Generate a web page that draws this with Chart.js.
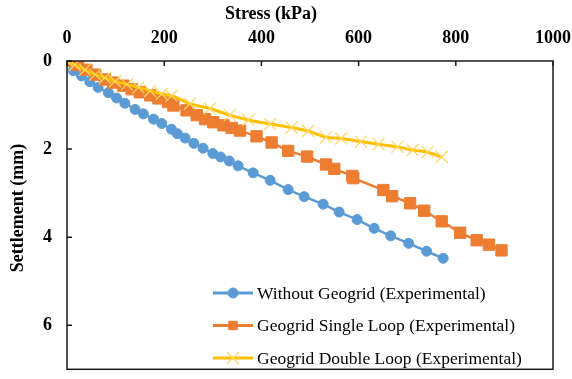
<!DOCTYPE html>
<html>
<head>
<meta charset="utf-8">
<script src="https://cdn.jsdelivr.net/npm/chart.js@4"></script>
<style>
html,body{margin:0;padding:0;background:#fff;}
#wrap{width:572px;height:379px;}
</style>
</head>
<body>
<div id="wrap"><canvas id="c" width="572" height="379"></canvas></div>
<script>
// ---- data ----
const X_TITLE = "Stress (kPa)";
const Y_TITLE = "Settlement (mm)";
const X_TICKS = [0, 200, 400, 600, 800, 1000];
const Y_TICKS = [0, 2, 4, 6];

const NO_GEO_LABEL = "Without Geogrid (Experimental)";
const NO_GEO_X = [0, 13, 30, 47, 64, 85, 102, 119, 140, 157, 178, 195, 215, 227, 243, 261, 280, 300, 316, 334, 352, 383, 418, 455, 488, 527, 560, 597, 632, 666, 703, 740, 774];
const NO_GEO_Y = [0, 0.22, 0.34, 0.47, 0.60, 0.72, 0.84, 0.96, 1.10, 1.20, 1.32, 1.42, 1.55, 1.65, 1.75, 1.87, 1.98, 2.10, 2.18, 2.27, 2.38, 2.54, 2.71, 2.92, 3.08, 3.25, 3.43, 3.60, 3.80, 3.97, 4.14, 4.32, 4.48];

const SINGLE_LABEL = "Geogrid Single Loop (Experimental)";
const SINGLE_X = [0, 23, 40, 58, 78, 95, 116, 133, 150, 171, 188, 208, 219, 246, 267, 284, 301, 322, 339, 356, 390, 421, 455, 494, 533, 550, 587, 589, 651, 669, 706, 735, 771, 809, 843, 868, 894];
const SINGLE_Y = [0, 0.09, 0.20, 0.31, 0.42, 0.49, 0.56, 0.64, 0.71, 0.78, 0.85, 0.93, 1.01, 1.12, 1.23, 1.32, 1.39, 1.46, 1.52, 1.58, 1.71, 1.85, 2.04, 2.17, 2.35, 2.45, 2.61, 2.66, 2.93, 3.07, 3.23, 3.40, 3.64, 3.90, 4.07, 4.17, 4.30];

const DOUBLE_LABEL = "Geogrid Double Loop (Experimental)";
const DOUBLE_X = [0, 16, 37, 58, 78, 99, 123, 147, 171, 195, 215, 253, 294, 335, 373, 418, 462, 496, 533, 564, 605, 641, 680, 711, 742, 771];
const DOUBLE_Y = [0, 0.09, 0.20, 0.31, 0.38, 0.46, 0.53, 0.60, 0.68, 0.75, 0.79, 0.97, 1.08, 1.23, 1.34, 1.43, 1.51, 1.59, 1.73, 1.76, 1.83, 1.89, 1.95, 2.02, 2.07, 2.18];

function pts(xs, ys){ return xs.map((x,i)=>({x:x, y:ys[i]})); }

const BLUE = '#5B9BD5', ORANGE = '#ED7D31', GOLD = '#FFC000', GOLD_LIGHT = '#FFD761';
const BOLD = {family:"'Liberation Serif','Times New Roman',serif", size:18, weight:'bold'};
const REG = "17.5px 'Liberation Serif','Times New Roman',serif";

const frame = {
  id:'frame',
  afterDraw(chart){
    const ctx = chart.ctx, a = chart.chartArea;
    const xs = chart.scales.x, ys = chart.scales.y;
    ctx.save();
    ctx.strokeStyle = '#1a1a1a';
    ctx.lineWidth = 1.5;
    ctx.strokeRect(a.left, a.top, a.right - a.left, a.bottom - a.top);
    ctx.beginPath();
    X_TICKS.forEach(v=>{ const p = xs.getPixelForValue(v); ctx.moveTo(p, a.top); ctx.lineTo(p, a.top + 5); });
    Y_TICKS.forEach(v=>{ const p = ys.getPixelForValue(v); ctx.moveTo(a.left, p); ctx.lineTo(a.left + 5, p); });
    ctx.stroke();

    // axis titles
    ctx.fillStyle = '#000';
    ctx.font = "bold 18px 'Liberation Serif','Times New Roman',serif";
    ctx.textAlign = 'center'; ctx.textBaseline = 'middle';
    ctx.fillText(X_TITLE, 271, 14);
    ctx.save();
    ctx.translate(18, 208); ctx.rotate(-Math.PI/2);
    ctx.fillText(Y_TITLE, 0, 0);
    ctx.restore();

    // legend
    const items = chart.data.datasets;
    const lx = 213, ly0 = 293, dy = 32.5;
    ctx.font = REG; ctx.textAlign = 'left'; ctx.textBaseline = 'middle';
    items.forEach((ds, i)=>{
      const y = ly0 + i*dy;
      ctx.strokeStyle = ds.borderColor; ctx.lineWidth = 3;
      ctx.beginPath(); ctx.moveTo(lx, y); ctx.lineTo(lx+40, y); ctx.stroke();
      ctx.fillStyle = ds.pointBackgroundColor; ctx.strokeStyle = ds.pointBorderColor; ctx.lineWidth = ds.pointBorderWidth;
      Chart.helpers.drawPoint(ctx, {pointStyle: ds.pointStyle, radius: ds.legendRadius, rotation:0, borderWidth: ds.pointBorderWidth}, lx+20, y);
      ctx.fillStyle = '#000';
      ctx.fillText(ds.label, lx+44, y+1);
    });
    ctx.restore();
  }
};

const chart = new Chart(document.getElementById('c'), {
  type:'scatter',
  data:{datasets:[
    {label:NO_GEO_LABEL, data:pts(NO_GEO_X, NO_GEO_Y), showLine:true, borderColor:BLUE, backgroundColor:BLUE,
     pointStyle:'circle', pointRadius:5, pointBorderWidth:1, pointBackgroundColor:BLUE, pointBorderColor:BLUE, borderWidth:2.5, order:3, legendRadius:5},
    {label:SINGLE_LABEL, data:pts(SINGLE_X, SINGLE_Y), showLine:true, borderColor:ORANGE, backgroundColor:ORANGE,
     pointStyle:'rect', pointRadius:8, pointBorderWidth:1, pointBackgroundColor:ORANGE, pointBorderColor:ORANGE, borderWidth:2.5, order:2, legendRadius:6},
    {label:DOUBLE_LABEL, data:pts(DOUBLE_X, DOUBLE_Y), showLine:true, borderColor:GOLD, backgroundColor:GOLD,
     pointStyle:'crossRot', pointRadius:8.5, pointBorderWidth:1.2, pointBackgroundColor:GOLD_LIGHT, pointBorderColor:GOLD_LIGHT, borderWidth:3, order:1,
     cubicInterpolationMode:'monotone', legendRadius:8.5}
  ]},
  options:{
    responsive:false, animation:false,
    layout:{padding:{left:0, top:0, right:19, bottom:1}},
    plugins:{legend:{display:false}, tooltip:{enabled:false}},
    scales:{
      x:{type:'linear', position:'top', min:0, max:1000,
         afterBuildTicks(s){ s.ticks = X_TICKS.map(v=>({value:v})); },
         afterFit(s){ s.height = 61; s.paddingLeft = 0; s.paddingRight = 0; },
         grid:{drawOnChartArea:false, drawTicks:false},
         border:{display:false},
         ticks:{color:'#000', font:BOLD, padding:11.5, maxRotation:0, callback:(v)=>String(v)}},
      y:{type:'linear', reverse:true, min:0, max:7,
         afterBuildTicks(s){ s.ticks = Y_TICKS.map(v=>({value:v})); },
         afterFit(s){ s.width = 67; s.paddingTop = 0; s.paddingBottom = 0; },
         grid:{drawOnChartArea:false, drawTicks:false},
         border:{display:false},
         ticks:{color:'#000', font:BOLD, padding:15, callback:(v)=>String(v)}}
    }
  },
  plugins:[frame]
});
</script>
</body>
</html>
